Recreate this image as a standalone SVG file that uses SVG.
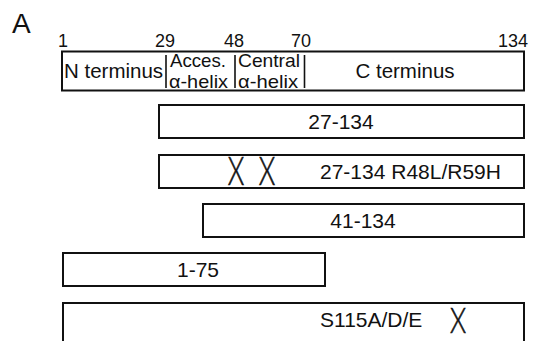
<svg xmlns="http://www.w3.org/2000/svg" width="536" height="341" viewBox="0 0 536 341">
<style>
.box{fill:#fff;stroke:#111;stroke-width:2}
.div{stroke:#111;stroke-width:1.6}
text{font-family:"Liberation Sans",Arial,Helvetica,sans-serif;fill:#111}
.lbl{font-size:21px}
.top{font-size:20.5px}
.num{font-size:18px}
.sm{font-size:18.5px}
.mid{text-anchor:middle}
.x{font-family:Lato,"Liberation Sans",sans-serif;font-weight:300;text-anchor:middle;stroke:#111;stroke-width:0.6}
</style>
<rect width="536" height="341" fill="#fff"/>
<text x="12" y="33" font-size="28">A</text>
<g id="scale">
<text class="num mid" x="63" y="47">1</text>
<text class="num mid" x="165" y="47">29</text>
<text class="num mid" x="234" y="47">48</text>
<text class="num mid" x="301" y="47">70</text>
<text class="num" x="528" y="47" text-anchor="end">134</text>
</g>
<g id="domains">
<rect class="box" x="62" y="51.5" width="462" height="39"/>
<line class="div" x1="166" y1="55" x2="166" y2="88"/>
<line class="div" x1="235" y1="55" x2="235" y2="88"/>
<line class="div" x1="304.5" y1="55" x2="304.5" y2="88"/>
<text class="top" x="64" y="78">N terminus</text>
<text class="sm" x="170" y="67" textLength="56" lengthAdjust="spacingAndGlyphs">Acces.</text>
<text class="sm" x="169" y="88" textLength="59" lengthAdjust="spacingAndGlyphs">α-helix</text>
<text class="sm" x="238" y="67" textLength="62" lengthAdjust="spacingAndGlyphs">Central</text>
<text class="sm" x="238" y="88" textLength="60" lengthAdjust="spacingAndGlyphs">α-helix</text>
<text class="top mid" x="405" y="78">C terminus</text>
</g>
<g id="c27-134">
<rect class="box" x="159" y="105" width="365" height="33"/>
<text class="lbl mid" x="341" y="129">27-134</text>
</g>
<g id="c27-134mut">
<rect class="box" x="159" y="155" width="365" height="33"/>
<text class="x" font-size="39" transform="translate(236,185) scale(0.68,1)">X</text>
<text class="x" font-size="39" transform="translate(267,185) scale(0.68,1)">X</text>
<text class="lbl" x="320" y="179">27-134 R48L/R59H</text>
</g>
<g id="c41-134">
<rect class="box" x="203" y="204" width="321" height="33"/>
<text class="lbl mid" x="363" y="228">41-134</text>
</g>
<g id="c1-75">
<rect class="box" x="63" y="253" width="262" height="33"/>
<text class="lbl mid" x="198" y="277">1-75</text>
</g>
<g id="cS115">
<rect class="box" x="63" y="303" width="461" height="45"/>
<text class="lbl" x="320" y="327">S115A/D/E</text>
<text class="x" font-size="36" transform="translate(458,333) scale(0.72,1)">X</text>
</g>
<g id="connectors"/>
</svg>
